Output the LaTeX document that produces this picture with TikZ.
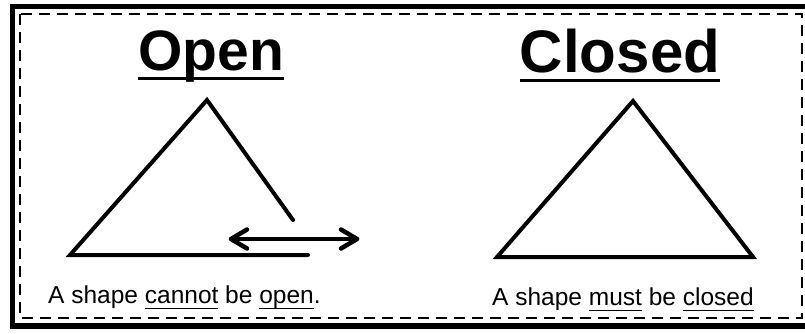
\documentclass[tikz,border=0pt]{standalone}
\usepackage{fontspec}
\setmainfont{Liberation Sans}
\newcommand\myul[3]{\setbox0\hbox{#3}\rlap{\vrule height -#1 depth #2 width \wd0}\box0\relax}
\tikzset{
  titletext/.style={inner sep=0pt, anchor=base},
  captext/.style={inner sep=0pt, anchor=base west, font=\fontsize{24.5pt}{28pt}\selectfont},
  shapeline/.style={line width=4pt, line join=miter, line cap=round},
  arrowline/.style={line width=4.5pt, line cap=round, line join=round}
}
\begin{document}
\begin{tikzpicture}[x=1pt,y=-1pt]
\useasboundingbox (0,0) rectangle (805,333);
% borders
\draw[line width=5.5pt] (12.5,6.5) rectangle (830,326);
\draw[line width=2.5pt, dash pattern=on 11pt off 7pt] (20,14) rectangle (802,318);
% titles
\node[titletext, font=\fontsize{57pt}{66pt}\selectfont\bfseries] (open) at (211,70) {\myul{6.5pt}{9.5pt}{Open}};
\node[titletext, font=\fontsize{60pt}{70pt}\selectfont\bfseries] (closed) at (620,72) {\myul{6.5pt}{9.5pt}{Closed}};
% open triangle
\coordinate (L1) at (207,100);
\coordinate (L2) at (70,255);
\coordinate (L3) at (308,255);
\coordinate (L4) at (293,220);
\draw[shapeline] (L4) -- (L1) -- (L2) -- (L3);
% double arrow
\coordinate (A1) at (231,239);
\coordinate (A2) at (357,239);
\draw[arrowline] (A1) -- (A2);
\draw[arrowline] ([shift={(16,-9.5)}]A1) -- (A1) -- ([shift={(16,9.5)}]A1);
\draw[arrowline] ([shift={(-16,-9.5)}]A2) -- (A2) -- ([shift={(-16,9.5)}]A2);
% closed triangle
\coordinate (R1) at (633,101);
\coordinate (R2) at (497,257);
\coordinate (R3) at (753,257);
\draw[shapeline] (R1) -- (R2) -- (R3) -- cycle;
% captions
\node[captext] (capopen) at (48,303) {A shape \myul{4.5pt}{6pt}{cannot} be \myul{4.5pt}{6pt}{open}.};
\node[captext] (capclosed) at (492,305) {A shape \myul{4.5pt}{6pt}{must} be \myul{4.5pt}{6pt}{closed}};
\end{tikzpicture}
\end{document}
